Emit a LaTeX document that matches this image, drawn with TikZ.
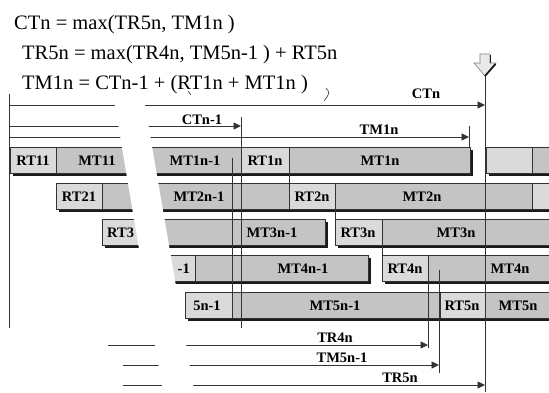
\documentclass[tikz,border=0pt]{standalone}
\usepackage{fontspec}
\setmainfont{Liberation Serif}
\usetikzlibrary{arrows.meta}
\definecolor{lgray}{HTML}{DADADA}
\definecolor{mgray}{HTML}{C4C4C4}
\definecolor{lcol}{HTML}{333333}
\definecolor{shad}{HTML}{1A1A1A}
\begin{document}
\begin{tikzpicture}[x=1pt,y=-1pt,
  frm/.style={font=\fontsize{20.5}{24}\selectfont, inner sep=0pt, anchor=base west},
  lbl/.style={font=\fontsize{14.5}{16}\selectfont\bfseries, inner sep=0pt, anchor=base},
  lbox/.style={fill=lgray, draw=lcol, line width=0.7pt},
  mbox/.style={fill=mgray, draw=lcol, line width=0.7pt},
  shadowbox/.style={fill=shad},
  tline/.style={draw=lcol, line width=0.8pt},
  tarrow/.style={tline, -{Triangle[length=7.5pt,width=7pt]}},
  vline/.style={draw=lcol, line width=0.8pt},
  gapband/.style={fill=white, draw=none}
]
\useasboundingbox (0,0) rectangle (549,392);
\clip (0,0) rectangle (549,392);

% ---- row 1
\fill[shadowbox] (13,150) rectangle (473,176);
\fill[shadowbox] (489,150) rectangle (560,176);
\path[lbox] (10,147) rectangle (56,173);
\path[mbox] (56,147) rectangle (241,173);
\path[lbox] (241,147) rectangle (289,173);
\path[mbox] (289,147) rectangle (470,173);
\path[lbox] (486,147) rectangle (532,173);
\path[mbox] (532,147) rectangle (560,173);
% ---- row 2
\fill[shadowbox] (59,186) rectangle (563,212);
\path[lbox] (56,183) rectangle (102,209);
\path[mbox] (102,183) rectangle (289,209);
\path[lbox] (289,183) rectangle (335,209);
\path[mbox] (335,183) rectangle (532,209);
\path[lbox] (532,183) rectangle (560,209);
% ---- row 3
\fill[shadowbox] (105,222) rectangle (328,248);
\fill[shadowbox] (338,222) rectangle (563,248);
\path[lbox] (102,219) rectangle (150,245);
\path[mbox] (150,219) rectangle (325,245);
\path[lbox] (335,219) rectangle (382,245);
\path[mbox] (382,219) rectangle (560,245);
% ---- row 4
\fill[shadowbox] (163,258) rectangle (371,284);
\fill[shadowbox] (385,258) rectangle (563,284);
\path[lbox] (160,255) rectangle (195,281);
\path[mbox] (195,255) rectangle (368,281);
\path[lbox] (382,255) rectangle (428,281);
\path[mbox] (428,255) rectangle (560,281);
% ---- row 5
\fill[shadowbox] (188,295) rectangle (563,321);
\path[lbox] (185,292) rectangle (232,318);
\path[mbox] (232,292) rectangle (440,318);
\path[lbox] (440,292) rectangle (485,318);
\path[mbox] (485,292) rectangle (560,318);

% ---- coordinates
\coordinate (leftT) at (9,94);
\coordinate (leftB) at (9,328);
\coordinate (ctnS) at (9,105);   \coordinate (ctnE) at (485,105);
\coordinate (ctnmS) at (9,126);  \coordinate (ctnmE) at (241,126);
\coordinate (tmS) at (9,137);    \coordinate (tmE) at (469,137);
\coordinate (trfS) at (108,345); \coordinate (trfE) at (428,345);
\coordinate (tmfS) at (123,365); \coordinate (tmfE) at (439,365);
\coordinate (trvS) at (123,385); \coordinate (trvE) at (485,385);
\coordinate (tip) at (485,76);   \coordinate (ctnB) at (485,392);

% ---- timing lines
\draw[tline] (leftT) -- (leftB);
\draw[tarrow] (ctnS) -- (ctnE);
\draw[tarrow] (ctnmS) -- (ctnmE);
\draw[tarrow] (tmS) -- (tmE);
\draw[tarrow] (trfS) -- (trfE);
\draw[tarrow] (tmfS) -- (tmfE);
\draw[tarrow] (trvS) -- (trvE);

% ---- vertical marker lines
\draw[vline] (241,117) -- (241,328);
\draw[vline] (232,158) -- (232,318);
\draw[vline] (289,147) -- (289,209);
\draw[vline] (335,183) -- (335,245);
\draw[vline] (382,219) -- (382,281);
\draw[vline] (428,255) -- (428,348);
\draw[vline] (439,270) -- (439,373);
\draw[vline] (469,126) -- (469,147);
\draw[vline] (tip) -- (ctnB);

% ---- white break band
\path[gapband] (113.7,98) -- (143.7,98) -- (194.2,392) -- (163,392) -- cycle;

% ---- small arcs
\draw[lcol, line width=0.6pt] (188,91) .. controls (189.5,92.5) .. (191,95);
\draw[lcol, line width=0.6pt] (326,88) .. controls (330,93) .. (324,101);

% ---- down arrow marker
\path[fill=lgray!60!white, draw=gray, line width=0.6pt]
  (480,54) -- (490,54) -- (490,63) -- (496,63) -- (tip) -- (474,63) -- (480,63) -- cycle;
\draw[shad, line width=1.8pt] (495.5,64) -- (tip);
\draw[shad, line width=0.8pt] (490,55) -- (490,63);

% ---- formulas
\node[frm] (f1) at (14,29) {CTn = max(TR5n, TM1n )};
\node[frm] (f2) at (22,59) {TR5n = max(TR4n, TM5n-1 ) + RT5n};
\node[frm] (f3) at (22,89) {TM1n = CTn-1 + (RT1n + MT1n )};

% ---- top / bottom labels
\node[lbl] (lctn) at (426,98) {CTn};
\node[lbl] (lctnm) at (202,124) {CTn-1};
\node[lbl] (ltm) at (379,134) {TM1n};
\node[lbl] (ltr4) at (335,342) {TR4n};
\node[lbl] (ltm5) at (342,362) {TM5n-1};
\node[lbl] (ltr5) at (400,382) {TR5n};

% ---- row labels
\node[lbl] (a1) at (33,165) {RT11};
\node[lbl] (a2) at (97,165) {MT11};
\node[lbl] (a3) at (195,165) {MT1n-1};
\node[lbl] (a4) at (265,165) {RT1n};
\node[lbl] (a5) at (380,165) {MT1n};
\node[lbl] (b1) at (79,201) {RT21};
\node[lbl] (b2) at (199,201) {MT2n-1};
\node[lbl] (b3) at (312,201) {RT2n};
\node[lbl] (b4) at (422,201) {MT2n};
\node[lbl, anchor=base west] (c1) at (107,237) {RT3};
\node[lbl] (c2) at (272,237) {MT3n-1};
\node[lbl] (c3) at (358,237) {RT3n};
\node[lbl] (c4) at (456,237) {MT3n};
\node[lbl, anchor=base east] (d1) at (190,273) {-1};
\node[lbl] (d2) at (303,273) {MT4n-1};
\node[lbl] (d3) at (405,273) {RT4n};
\node[lbl] (d4) at (510,273) {MT4n};
\node[lbl] (e1) at (207,310) {5n-1};
\node[lbl] (e2) at (335,310) {MT5n-1};
\node[lbl] (e3) at (462,310) {RT5n};
\node[lbl] (e4) at (518,310) {MT5n};
\end{tikzpicture}
\end{document}
